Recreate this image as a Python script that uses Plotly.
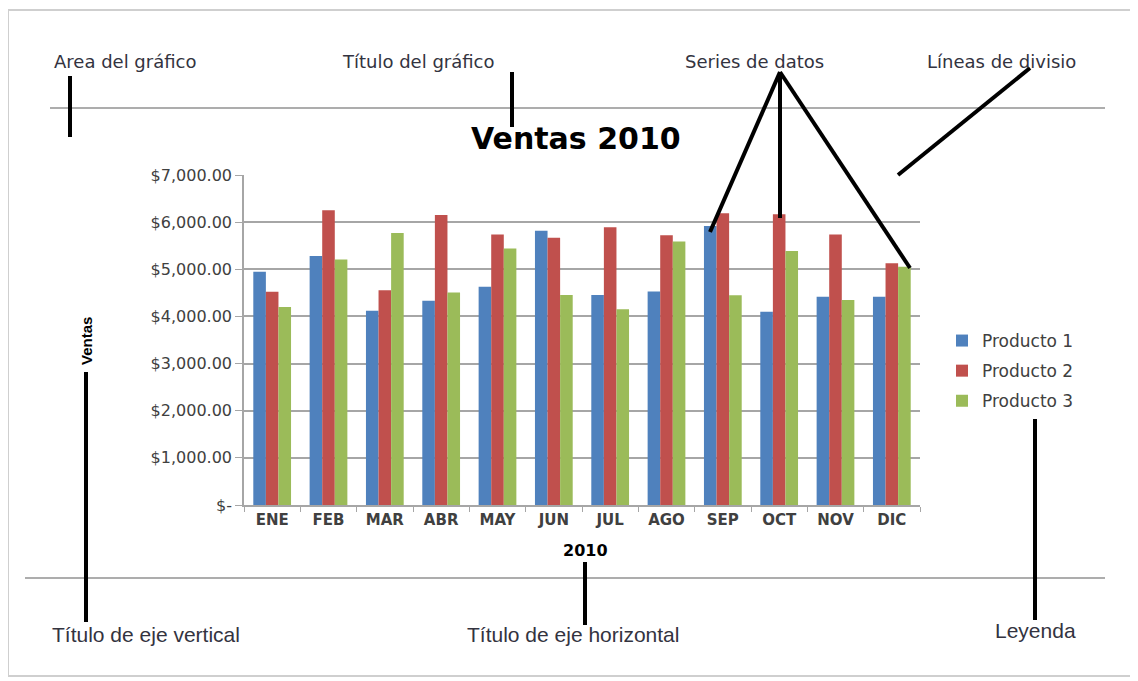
import plotly.graph_objects as go

# ── datos ─────────────────────────────────────────────────────────────────────
MESES = ["ENE", "FEB", "MAR", "ABR", "MAY", "JUN",
         "JUL", "AGO", "SEP", "OCT", "NOV", "DIC"]
PRODUCTO_1 = [4950, 5280, 4120, 4330, 4630, 5820, 4455, 4530, 5920, 4100, 4420, 4420]
PRODUCTO_2 = [4525, 6250, 4555, 6150, 5740, 5670, 5890, 5720, 6190, 6170, 5740, 5130]
PRODUCTO_3 = [4200, 5210, 5770, 4505, 5440, 4455, 4150, 5590, 4450, 5390, 4350, 5055]

Y_TICKS = [0, 1000, 2000, 3000, 4000, 5000, 6000, 7000]
Y_LABELS = ["$-", "$1,000.00", "$2,000.00", "$3,000.00", "$4,000.00",
            "$5,000.00", "$6,000.00", "$7,000.00"]

COLORS = ["#4F81BD", "#C0504D", "#9BBB59"]

OFF = 8                                # margen del body de la página
W, H = 1138 - OFF, 681 - OFF
PL, PR, PT, PB = 244, 920, 175, 505    # área de trazado (px de pantalla)


def px(x):
    return (x - PL) / (PR - PL)


def py(y):
    return (PB - y) / (PB - PT)


fig = go.Figure()
for name, vals, c in zip(["Producto 1", "Producto 2", "Producto 3"],
                         [PRODUCTO_1, PRODUCTO_2, PRODUCTO_3], COLORS):
    fig.add_trace(go.Bar(x=MESES, y=vals, name=name, marker_color=c,
                         marker_line_width=0, legendgroup=name))

fig.update_layout(
    width=W, height=H,
    margin=dict(l=PL - OFF, r=W - (PR - OFF), t=PT - OFF, b=H - (PB - OFF),
                autoexpand=False),
    plot_bgcolor="white", paper_bgcolor="white",
    barmode="group", bargap=0.33, bargroupgap=0,
    font=dict(family="'DejaVu Sans', Verdana, sans-serif", color="#404040"),
    legend=dict(x=px(942), y=py(323), xanchor="left", yanchor="top",
                font=dict(size=17, color="#404040"), tracegroupgap=5,
                itemwidth=30),
    showlegend=True,
)
fig.update_yaxes(range=[0, 7000], tickvals=Y_TICKS, ticktext=Y_LABELS,
                 showgrid=True, gridcolor="#A6A6A6", gridwidth=1.5,
                 showline=True, linecolor="#A6A6A6", linewidth=1.5,
                 ticks="outside", ticklen=7, tickcolor="#A6A6A6",
                 tickfont=dict(size=16, color="#404040"), zeroline=False)
fig.update_xaxes(showline=True, linecolor="#A6A6A6", linewidth=1.5,
                 ticks="outside", tickson="boundaries", ticklen=5,
                 tickcolor="#A6A6A6",
                 tickfont=dict(family="'DejaVu Sans', sans-serif", size=15,
                               color="#404040", weight="bold"))

# ── marco de la imagen y líneas grises ───────────────────────────────────────
shapes = [
    dict(type="rect", x0=px(8), x1=px(1136), y0=py(10), y1=py(676),
         line=dict(color="#CFCFCF", width=2)),
    dict(type="line", x0=px(50), x1=px(1105), y0=py(108), y1=py(108),
         line=dict(color="#ADADAD", width=2)),
    dict(type="line", x0=px(25), x1=px(1105), y0=py(578), y1=py(578),
         line=dict(color="#ADADAD", width=2)),
]

# líneas negras indicadoras
PUNTEROS = [
    ((70, 76), (70, 137)),
    ((512, 72), (512, 127)),
    ((780, 72), (710, 232)),
    ((780, 72), (780, 218)),
    ((780, 72), (910, 268)),
    ((1030, 68), (898, 175)),
    ((86, 372), (86, 622)),
    ((585, 562), (585, 625)),
    ((1035, 408), (1035, 620)),
]
for (x0, y0), (x1, y1) in PUNTEROS:
    shapes.append(dict(type="line", x0=px(x0), y0=py(y0), x1=px(x1), y1=py(y1),
                       line=dict(color="black", width=4)))
for s in shapes:
    s.update(xref="paper", yref="paper", layer="above")
fig.update_layout(shapes=shapes)

# ── textos ───────────────────────────────────────────────────────────────────
ARRIBA = [
    ("Area del gráfico", 52, 61),
    ("Título del gráfico", 340, 61),
    ("Series de datos", 683, 61),
    ("Líneas de divisio", 925, 61),
]
ABAJO = [
    ("Título de eje vertical", 50, 634),
    ("Título de eje horizontal", 465, 634),
    ("Leyenda", 993, 630),
]
for txt, x, y in ARRIBA:
    fig.add_annotation(text=txt, x=px(x), y=py(y), xref="paper", yref="paper",
                       xanchor="left", yanchor="middle", showarrow=False,
                       font=dict(family="'DejaVu Sans', sans-serif",
                                 size=18, color="#333340"))
for txt, x, y in ABAJO:
    fig.add_annotation(text=txt, x=px(x), y=py(y), xref="paper", yref="paper",
                       xanchor="left", yanchor="middle", showarrow=False,
                       font=dict(family="'Liberation Sans', Arial, sans-serif",
                                 size=21, color="#333340"))

fig.add_annotation(text="<b>Ventas 2010</b>", x=px(576), y=py(138),
                   xref="paper", yref="paper", showarrow=False,
                   xanchor="center", yanchor="middle",
                   font=dict(family="'DejaVu Sans', sans-serif", size=30, color="black"))
fig.add_annotation(text="<b>2010</b>", x=px(585), y=py(550),
                   xref="paper", yref="paper", showarrow=False,
                   xanchor="center", yanchor="middle",
                   font=dict(family="'DejaVu Sans', sans-serif", size=16, color="black"))
fig.add_annotation(text="<b>Ventas</b>", x=px(86), y=py(341), textangle=-90,
                   xref="paper", yref="paper", showarrow=False,
                   xanchor="center", yanchor="middle",
                   font=dict(family="'Liberation Sans Narrow', 'Liberation Sans', sans-serif",
                             size=15, color="black"))

fig.write_html("out.html")
